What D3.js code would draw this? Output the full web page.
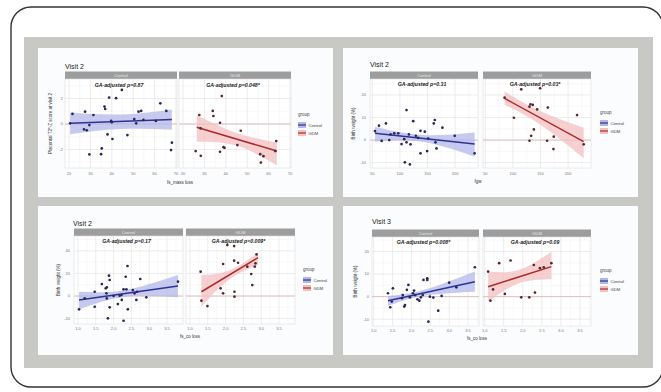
<!DOCTYPE html>
<html>
<head>
<meta charset="utf-8">
<script src="https://cdn.jsdelivr.net/npm/d3@7"></script>
<style>
  body { margin: 0; background: #fff; }
  svg { display: block; font-family: "Liberation Sans", Arial, sans-serif; }
</style>
</head>
<body>
<svg id="fig" width="661" height="392"></svg>
<script>
// ---- data ----
const groups = ["Control", "GDM"];
const pLabels = [
  ["GA-adjusted p=0.87", "GA-adjusted p=0.048*"],
  ["GA-adjusted p=0.31", "GA-adjusted p=0.03*"],
  ["GA-adjusted p=0.17", "GA-adjusted p=0.009*"],
  ["GA-adjusted p=0.008*", "GA-adjusted p=0.09"]
];
const titles = ["Visit 2", "Visit 2", "Visit 2", "Visit 3"];
const yTitles = ["Placental T2*-Z score at visit 2", "Birth weight (%)", "Birth weight (%)", "Birth weight (%)"];
const xTitles = ["fs_mass loss", "fgw", "fs_co loss", "fs_co loss"];

const xTicks1 = [20, 30, 40, 50, 60, 70];
const xTicks2 = [50, 100, 150, 200];
const xTicks3 = [1.0, 1.5, 2.0, 2.5, 3.0, 3.5];
const xTicks4 = [1.0, 1.5, 2.0, 2.5, 3.0, 3.5];
const yTicks1 = [-2, 0, 2];
const yTicks2 = [-10, 0, 10, 20];
const yTicks3 = [-20, 0, 20, 40];
const yTicks4 = [-10, 0, 10, 20];

// panel 1: placental T2* z-score
const p1Control = [[21.6,0.79],[27.5,0.97],[31.4,0.71],[29.5,-0.08],[27.0,-0.42],[28.3,-0.5],[38.75,2.08],
  [42.0,2.03],[44.7,2.68],[36.6,1.37],[36.9,1.18],[39.7,0.24],[40.0,0.13],[38.0,-0.82],[40.3,-1.18],
  [35.3,-1.92],[35.0,-2.37],[29.5,-2.39],[47.3,-0.87],[50.5,0.39],[51.4,0.05],[52.5,0.97],[53.75,1.03],
  [54.8,0.32],[62.7,1.63],[65.5,1.03],[60.6,0.24],[68.1,-1.47],[67.7,-2.05],[20.5,0.05]];
const p1Gdm = [[27.6,0.71],[28.2,-0.34],[33.9,1.03],[34.2,0.63],[37.3,0.1],[38.1,2.2],[47.0,-0.53],
  [25.9,-2.13],[28.3,-2.5],[37.3,-2.18],[38.9,-1.82],[39.4,-1.87],[45.4,-1.66],[56.1,-2.37],[56.4,-3.03],
  [57.6,-2.53],[63.6,-1.34],[63.1,-2.13]];
const p1ControlFit = [[20.5, 0.05], [68.1, 0.35]];
const p1GdmFit = [[26.4, -0.26], [63.9, -2.13]];
const p1ControlBand = [[20.5, -0.8, 0.9], [44, -0.4, 0.75], [68.1, -0.45, 1.15]];
const p1GdmBand = [[26.4, -1.39, 0.71], [45, -1.7, -0.7], [63.9, -3.24, -1.45]];

// panel 2: birth weight vs fgw
const p2Control = [[54.8,4.0],[62.0,6.4],[66.9,-0.4],[74.7,7.4],[80.7,0],[83.1,2.5],[89.8,3.0],[97.0,3.0],
  [103.0,-1.8],[107.8,0.4],[112.0,13.3],[112.0,-1.0],[116.3,2.5],[119.3,-1.9],[109.0,-9.9],[118.1,-10.8],
  [124.1,8.4],[128.9,1.9],[133.1,1.0],[137.3,4.1],[137.3,-5.9],[145.2,3.7],[149.4,-4.9],[151.2,0.7],
  [161.4,7.4],[163.3,8.9],[164.5,-1.0],[166.3,-3.7],[177.1,5.5],[199.4,1.9],[235.5,-5.9]];
const p2Gdm = [[84.9,18.8],[101.8,9.9],[115.1,22.5],[130.1,14.8],[131.9,15.9],[136.1,15.6],[138.0,4.7],
  [133.1,1.9],[130.1,-0.3],[144.0,13.6],[149.4,23.0],[163.3,14.4],[162.0,-0.3],[174.1,1.5],[173.5,-4.0],
  [216.3,11.1],[228.3,-1.9]];
const p2ControlFit = [[54.8, 3.0], [235.5, -1.8]];
const p2GdmFit = [[84.9, 18.5], [228.3, -0.7]];
const p2ControlBand = [[54.8, -0.7, 5.9], [140, -0.8, 2.3], [235.5, -7.4, 3.4]];
const p2GdmBand = [[84.9, 15.6, 21.5], [150, 6.8, 12.8], [228.3, -8.1, 5.5]];

// panel 3: birth weight vs fs_co loss, visit 2
const p3Control = [[1.03,-11.8],[1.19,-2.1],[1.47,3.8],[1.47,-9.5],[1.67,10.6],[1.78,6.8],[1.81,7.7],
  [1.80,2.4],[1.81,-2.1],[1.84,-19.8],[1.87,18.0],[1.89,14.2],[1.89,-10.0],[2.00,0],[2.12,-7.1],[2.17,0.3],
  [2.22,0.9],[2.23,-3.5],[2.28,5.9],[2.28,-21.9],[2.34,17.1],[2.39,26.6],[2.36,5.9],[2.40,-11.8],[2.54,5.3],
  [2.59,2.4],[2.64,-3.5],[2.66,3.8],[2.75,15.1],[2.92,-1.2],[3.81,12.7]];
const p3Gdm = [[1.30,21.6],[1.32,-4.1],[1.49,-8.9],[1.86,6.8],[1.93,28.4],[1.93,2.4],[2.05,45.2],[2.24,44.3],
  [2.24,31.3],[2.25,3.8],[2.25,-0.6],[2.35,29.5],[2.61,26.0],[2.72,19.5],[2.75,9.7],[2.82,26.0],[2.84,29.0],
  [2.87,36.9]];
const p3ControlFit = [[1.03, -3.5], [3.81, 8.9]];
const p3GdmFit = [[1.32, 3.8], [2.91, 34.0]];
const p3ControlBand = [[1.03, -11.8, 3.8], [2.3, -0.8, 5.2], [3.81, -1.2, 18.6]];
const p3GdmBand = [[1.32, -9.5, 18.6], [2.1, 14.6, 22.6], [2.91, 27.5, 38.4]];

// panel 4: birth weight vs fs_co loss, visit 3
const p4Control = [[1.38,1.5],[1.44,-4.7],[1.48,-2.2],[1.51,3.7],[1.75,-0.7],[1.77,0.7],[1.81,-4.4],
  [1.83,-3.7],[1.88,3.0],[1.92,5.2],[1.96,-0.3],[2.04,1.5],[2.07,2.7],[2.10,0.7],[2.16,-1.2],[2.21,-1.8],
  [2.25,-0.3],[2.30,0.7],[2.32,7.4],[2.42,8.1],[2.42,7.4],[2.45,-11.1],[2.49,0],[2.58,-0.4],[2.71,-6.2],
  [2.80,0.3],[3.00,6.2],[3.19,4.1],[3.68,13.0]];
const p4Gdm = [[1.09,11.1],[1.15,-1.8],[1.22,3.2],[1.38,14.8],[1.53,1.2],[1.68,16.0],[1.96,-0.3],[2.17,-0.3],
  [2.29,14.0],[2.32,1.8],[2.45,12.6],[2.55,13.0],[2.75,14.8]];
const p4ControlFit = [[1.38, -1.8], [3.68, 6.6]];
const p4GdmFit = [[1.09, 4.4], [2.75, 13.3]];
const p4ControlBand = [[1.38, -4.1, 0.3], [2.3, 0.3, 2.8], [3.68, 2.2, 11.1]];
const p4GdmBand = [[1.09, -2.2, 11.1], [1.9, 5.9, 11.9], [2.75, 7.7, 19.9]];

// ---- colours ----
const lineCol = ["#2f3294", "#ad2b2a"];
const pointCol = ["#28285e", "#582830"];
const bandCol = ["#b1b8e8", "#f3c0c0"];

// ---- layout of the four ggplot panels inside the page ----
const panels = [
  { facets: [[65,177],[179,291]], top: 79, bot: 168, xDom: [18.1,70.5], yDom: [-3.46,3.54],
    xTicks: xTicks1, yTicks: yTicks1, fmt: d3.format("d"), title: [65,69], yTickX: 63, yLabX: 52,
    xTickY: 175, xLab: [180,184], ann: 87, legend: [298,116],
    pts: [p1Control, p1Gdm], fit: [p1ControlFit, p1GdmFit], band: [p1ControlBand, p1GdmBand] },
  { facets: [[370,478],[483,591]], top: 79, bot: 168, xDom: [45.8,241.6], yDom: [-12.4,27.1],
    xTicks: xTicks2, yTicks: yTicks2, fmt: d3.format("d"), title: [370,67], yTickX: 366, yLabX: 355,
    xTickY: 175, xLab: [478,183], ann: 86, legend: [600,114],
    pts: [p2Control, p2Gdm], fit: [p2ControlFit, p2GdmFit], band: [p2ControlBand, p2GdmBand] },
  { facets: [[74,183],[186,295]], top: 236, bot: 324, xDom: [0.888,3.95], yDom: [-24.8,53.2],
    xTicks: xTicks3, yTicks: yTicks3, fmt: d3.format(".1f"), title: [73,226], yTickX: 70, yLabX: 60,
    xTickY: 330, xLab: [190,338], ann: 243, legend: [303,271],
    pts: [p3Control, p3Gdm], fit: [p3ControlFit, p3GdmFit], band: [p3ControlBand, p3GdmBand] },
  { facets: [[372,479],[483,591]], top: 237, bot: 326, xDom: [0.956,3.79], yDom: [-13.0,26.4],
    xTicks: xTicks4, yTicks: yTicks4, fmt: d3.format(".1f"), title: [372,224], yTickX: 369, yLabX: 357,
    xTickY: 332, xLab: [477,340], ann: 244, legend: [600,272],
    pts: [p4Control, p4Gdm], fit: [p4ControlFit, p4GdmFit], band: [p4ControlBand, p4GdmBand] }
];

const svg = d3.select("#fig");

// outer frame and grey mount
svg.append("rect").attr("x", 11).attr("y", 7).attr("width", 652).attr("height", 380)
  .attr("rx", 20).attr("fill", "#fff").attr("stroke", "#333").attr("stroke-width", 1.4);
svg.append("rect").attr("x", 24).attr("y", 37).attr("width", 629).attr("height", 331).attr("fill", "#c8c9c5");
[[38,48],[343,48],[38,206],[343,206]].forEach(([x, y]) => {
  svg.append("rect").attr("x", x).attr("y", y).attr("width", 295).attr("height", 149).attr("fill", "#fbfcfd");
});

panels.forEach((p, pi) => {
  const g = svg.append("g");
  const y = d3.scaleLinear().domain(p.yDom).range([p.bot, p.top]);

  g.append("text").attr("x", p.title[0]).attr("y", p.title[1]).attr("font-size", 7)
    .attr("fill", "#222").text(titles[pi]);

  p.facets.forEach((f, fi) => {
    const x = d3.scaleLinear().domain(p.xDom).range(f);
    const fg = g.append("g");

    // strip
    fg.append("rect").attr("x", f[0]).attr("y", p.top - 7.5).attr("width", f[1] - f[0]).attr("height", 7.5)
      .attr("fill", "#9d9d9d");
    fg.append("text").attr("x", (f[0] + f[1]) / 2).attr("y", p.top - 2.2).attr("text-anchor", "middle")
      .attr("font-size", 4.2).attr("fill", "#e6e6e6").text(groups[fi]);

    // panel + grid
    fg.append("rect").attr("x", f[0]).attr("y", p.top).attr("width", f[1] - f[0]).attr("height", p.bot - p.top)
      .attr("fill", "#fff").attr("stroke", "#dcdcdc").attr("stroke-width", 0.6);
    const step = p.xTicks[1] - p.xTicks[0];
    const xMinor = p.xTicks.map(t => t + step / 2).concat([p.xTicks[0] - step / 2])
      .filter(v => v > p.xDom[0] && v < p.xDom[1]);
    const ystep = p.yTicks[1] - p.yTicks[0];
    const yMinor = p.yTicks.map(t => t + ystep / 2).concat([p.yTicks[0] - ystep / 2])
      .filter(v => v > p.yDom[0] && v < p.yDom[1]);
    fg.selectAll(".vminor").data(xMinor).enter().append("line")
      .attr("x1", d => x(d)).attr("x2", d => x(d)).attr("y1", p.top).attr("y2", p.bot)
      .attr("stroke", "#f1f1f1").attr("stroke-width", 0.5);
    fg.selectAll(".hminor").data(yMinor).enter().append("line")
      .attr("x1", f[0]).attr("x2", f[1]).attr("y1", d => y(d)).attr("y2", d => y(d))
      .attr("stroke", "#f1f1f1").attr("stroke-width", 0.5);
    fg.selectAll(".vmajor").data(p.xTicks.filter(v => v > p.xDom[0] && v < p.xDom[1])).enter().append("line")
      .attr("x1", d => x(d)).attr("x2", d => x(d)).attr("y1", p.top).attr("y2", p.bot)
      .attr("stroke", "#e4e4e4").attr("stroke-width", 0.7);
    fg.selectAll(".hmajor").data(p.yTicks).enter().append("line")
      .attr("x1", f[0]).attr("x2", f[1]).attr("y1", d => y(d)).attr("y2", d => y(d))
      .attr("stroke", "#e4e4e4").attr("stroke-width", 0.7);
    // zero reference line
    fg.append("line").attr("x1", f[0]).attr("x2", f[1]).attr("y1", y(0)).attr("y2", y(0))
      .attr("stroke", "#d9aaaa").attr("stroke-width", 0.7);

    // x tick labels
    fg.selectAll(".xt").data(p.xTicks.filter(v => v > p.xDom[0] && v < p.xDom[1])).enter().append("text")
      .attr("x", d => x(d)).attr("y", p.xTickY).attr("text-anchor", "middle")
      .attr("font-size", 4).attr("fill", "#777").text(p.fmt);

    // confidence band
    const area = d3.area().curve(d3.curveNatural)
      .x(d => x(d[0])).y0(d => y(d[1])).y1(d => y(d[2]));
    fg.append("path").datum(p.band[fi]).attr("d", area)
      .attr("fill", bandCol[fi]).attr("opacity", 0.75);

    // fitted line
    fg.append("path").datum(p.fit[fi])
      .attr("d", d3.line().x(d => x(d[0])).y(d => y(d[1])))
      .attr("stroke", lineCol[fi]).attr("stroke-width", 1.5).attr("fill", "none");

    // points
    fg.selectAll(".pt").data(p.pts[fi]).enter().append("circle")
      .attr("cx", d => x(d[0])).attr("cy", d => y(d[1])).attr("r", 1.35)
      .attr("fill", pointCol[fi]);

    // annotation
    fg.append("text").attr("x", (f[0] + f[1]) / 2 - 2).attr("y", p.ann).attr("text-anchor", "middle")
      .attr("font-size", 5.2).attr("font-weight", "bold").attr("font-style", "italic")
      .attr("fill", "#222").text(pLabels[pi][fi]);
  });

  // y tick labels
  g.selectAll(".yt").data(p.yTicks).enter().append("text")
    .attr("x", p.yTickX).attr("y", d => y(d) + 1.4).attr("text-anchor", "end")
    .attr("font-size", 4).attr("fill", "#777").text(d => d);

  // axis titles
  g.append("text").attr("transform", `translate(${p.yLabX},${(p.top + p.bot) / 2}) rotate(-90)`)
    .attr("text-anchor", "middle").attr("font-size", 4.5).attr("fill", "#333").text(yTitles[pi]);
  g.append("text").attr("x", p.xLab[0]).attr("y", p.xLab[1]).attr("text-anchor", "middle")
    .attr("font-size", 4.5).attr("fill", "#333").text(xTitles[pi]);

  // legend
  const lg = g.append("g").attr("transform", `translate(${p.legend[0]},${p.legend[1]})`);
  lg.append("text").attr("x", 0).attr("y", 0).attr("font-size", 4.5).attr("fill", "#444").text("group");
  groups.forEach((name, i) => {
    const ky = 6 + i * 8;
    lg.append("rect").attr("x", 0).attr("y", ky).attr("width", 8).attr("height", 6)
      .attr("fill", bandCol[i]);
    lg.append("line").attr("x1", 0).attr("x2", 8).attr("y1", ky + 3).attr("y2", ky + 3)
      .attr("stroke", lineCol[i]).attr("stroke-width", 1.2);
    lg.append("text").attr("x", 10.5).attr("y", ky + 4.6).attr("font-size", 4.2).attr("fill", "#444").text(name);
  });
});
</script>
</body>
</html>
